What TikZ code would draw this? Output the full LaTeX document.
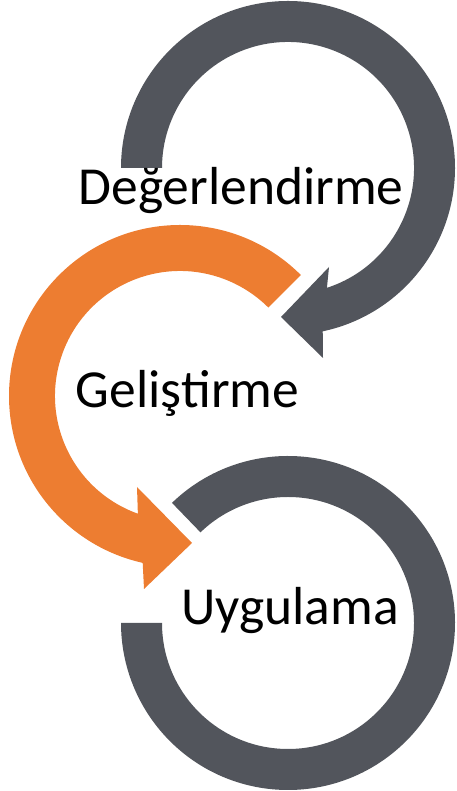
\documentclass[tikz,border=0pt]{standalone}
\usepackage{fontspec}
\setmainfont{Carlito}
\usetikzlibrary{calc}
\definecolor{cgray}{HTML}{52555C}
\definecolor{corange}{HTML}{ED7D31}
\begin{document}
\begin{tikzpicture}[x=1pt,y=1pt,
  label/.style={anchor=base,inner sep=0pt,font=\fontsize{53.5}{64}\selectfont,text=black}]
\useasboundingbox (0,0) rectangle (456,791);
\coordinate (C1) at (288,623);
\coordinate (C2) at (180,395);
\coordinate (C3) at (288,168);
% top gray arrow
\fill[cgray] ($(C1)+(180:167)$) arc[start angle=180,end angle=-78,radius=167]
  -- (323,433) -- (281,474) -- (329,524)
  -- ($(C1)+(-72:126)$) arc[start angle=-72,end angle=180,radius=126] -- cycle;
% orange arrow
\fill[corange] ($(C2)+(45:171)$) arc[start angle=45,end angle=257.4,radius=171]
  -- (144,202) -- (192,248) -- (137,304)
  -- ($(C2)+(250.3:125)$) arc[start angle=250.3,end angle=45,radius=125] -- cycle;
% bottom gray ring
\fill[cgray] ($(C3)+(134:167)$) arc[start angle=134,end angle=-180,radius=167]
  -- ($(C3)+(180:126)$) arc[start angle=-180,end angle=134,radius=126] -- cycle;
\node[label] (deg) at (241,586) {Değerlendirme};
\node[label] (gel) at (187.5,383) {Geliştirme};
\node[label] (uyg) at (290,166) {Uygulama};
\end{tikzpicture}
\end{document}
